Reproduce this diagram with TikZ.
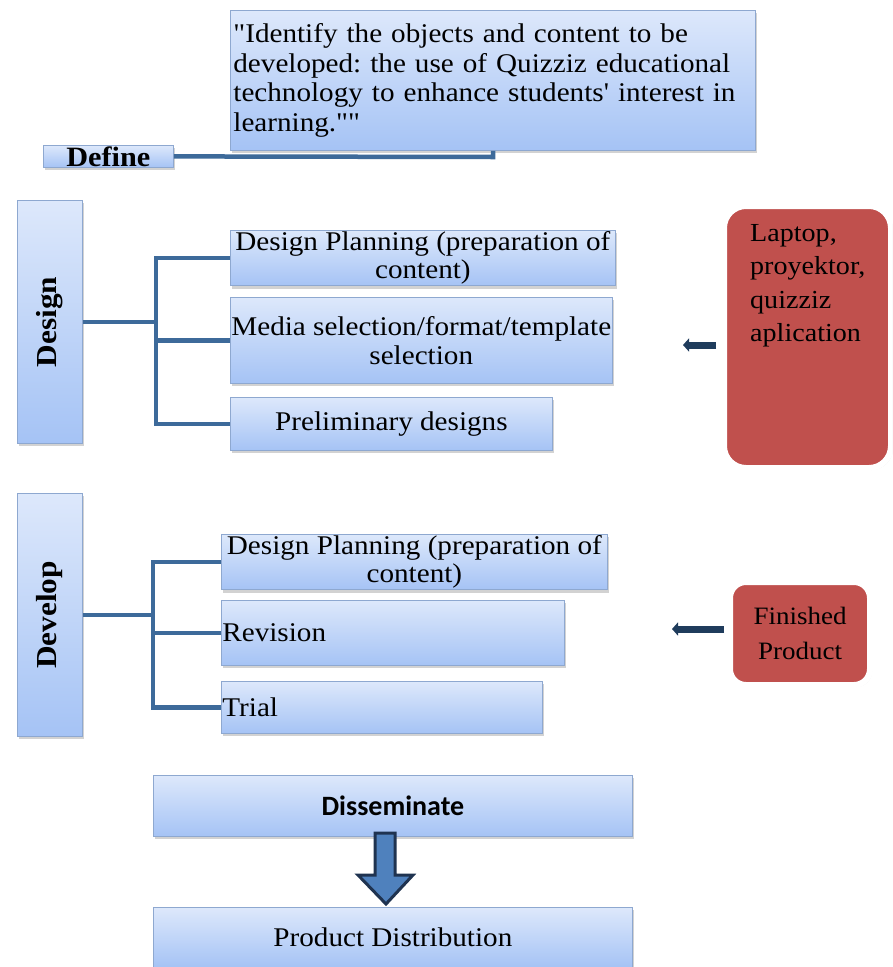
\documentclass[tikz,border=0pt]{standalone}
\usepackage{fontspec}
\setmainfont[FakeStretch=1.08,Ligatures=TeXOff]{Liberation Serif}
\newfontfamily\calib{Carlito}
\usetikzlibrary{shadows,arrows.meta,calc}
\definecolor{boxtop}{HTML}{DDE8FB}
\definecolor{boxbot}{HTML}{A5C3F5}
\definecolor{boxline}{HTML}{8EA8D0}
\definecolor{conn}{HTML}{3D6A9A}
\definecolor{redfill}{HTML}{C0504D}
\definecolor{darkarrow}{HTML}{1F3C5C}
\definecolor{bigarrow}{HTML}{4F81BD}
\definecolor{bigarrowline}{HTML}{1F3350}
\frenchspacing
\tikzset{
 bluebox/.style={draw=boxline, line width=0.8pt, top color=boxtop, bottom color=boxbot,
   drop shadow={shadow xshift=2pt, shadow yshift=-3pt, opacity=0.35},
   inner sep=1pt, anchor=north west, align=center, font=\fontsize{27}{28.5}\selectfont},
 redbox/.style={draw=white, line width=6pt, fill=redfill, rounded corners=22pt,
   drop shadow={shadow xshift=2pt, shadow yshift=-2pt, opacity=0.25},
   anchor=north west, inner sep=0pt},
 connline/.style={draw=conn, line width=4.5pt},
 sidearrow/.style={draw=darkarrow, line width=7pt, -{Triangle[width=13pt,length=6pt]}},
 sidelabel/.style={rotate=90, font=\fontsize{29}{30}\selectfont\bfseries},
}
\begin{document}
\begin{tikzpicture}[x=1pt,y=-1pt]
\useasboundingbox (0,0) rectangle (892,967);
\clip (0,0) rectangle (892,967);
\fill[white] (0,0) rectangle (892,967);

% Define
\node[bluebox, minimum width=525, minimum height=140, text width=519pt, align=left,
      font=\fontsize{27}{29.7}\selectfont\frenchspacing] (idn) at (230,10)
 {"Identify the objects and content to be\\developed: the use of Quizziz educational\\technology to enhance students' interest in\\learning.""};
\node[bluebox, minimum width=130, minimum height=22, inner sep=0pt, font=\fontsize{28}{28}\selectfont\bfseries] (def) at (43,145) {Define};
\coordinate (dj) at (493,157);
\draw[connline] (def.east) -- (dj) -- (idn.south -| dj);

% Design
\node[bluebox, minimum width=65, minimum height=243] (des) at (17,200) {};
\node[sidelabel] at (des.center) {Design};
\node[bluebox, minimum width=385, minimum height=53] (dp1) at (230,230) {Design Planning (preparation of\\content)};
\node[bluebox, minimum width=377, minimum height=86] (med) at (230,297) {Media selection/format/template\\selection};
\node[bluebox, minimum width=322, minimum height=53] (pre) at (230,397) {Preliminary designs};
\draw[connline] (des.east) -- ++(73,0) coordinate (j1);
\draw[connline] (dp1.west) -- (dp1.west -| j1) -- (pre.west -| j1) -- (pre.west);
\draw[connline] (med.west) -- (med.west -| j1);

\node[redbox, minimum width=167, minimum height=262] (lap) at (721,203) {};
\node[anchor=north west, align=left, inner sep=0pt, font=\fontsize{26}{33.5}\selectfont] (laptxt) at (750,224)
 {Laptop,\\proyektor,\\quizziz\\aplication};
\coordinate (la) at (716,345);
\draw[sidearrow] (la) -- (683,345);

% Develop
\node[bluebox, minimum width=65, minimum height=243] (dev) at (17,493) {};
\node[sidelabel] at (dev.center) {Develop};
\node[bluebox, minimum width=386, minimum height=52] (dp2) at (221,534) {Design Planning (preparation of\\content)};
\node[bluebox, minimum width=343, minimum height=65, text width=341pt, align=left] (rev) at (221,600) {Revision};
\node[bluebox, minimum width=321, minimum height=52, text width=319pt, align=left] (tri) at (221,681) {Trial};
\draw[connline] (dev.east) -- ++(70,0) coordinate (j2);
\draw[connline] (dp2.west) -- (dp2.west -| j2) -- (tri.west -| j2) -- (tri.west);
\draw[connline] (rev.west) -- (rev.west -| j2);

\node[redbox, minimum width=140, minimum height=103, align=center, font=\fontsize{25}{35}\selectfont, rounded corners=16pt] (fin) at (727,579) {Finished\\Product};
\coordinate (fa) at (724,629);
\draw[sidearrow] (fa) -- (672,629);

% Disseminate
\node[bluebox, minimum width=479, minimum height=61, font=\fontsize{28}{30}\calib\bfseries] (dis) at (153,775) {Disseminate};
\node[bluebox, minimum width=479, minimum height=60] (prod) at (153,907) {Product Distribution};
\draw[line width=3pt, draw=bigarrowline, fill=bigarrow, line join=miter]
 (375,833) -- (395,833) -- (395,875) -- (413,875) -- (386,904) -- (358,875) -- (375,875) -- cycle;
\end{tikzpicture}
\end{document}
